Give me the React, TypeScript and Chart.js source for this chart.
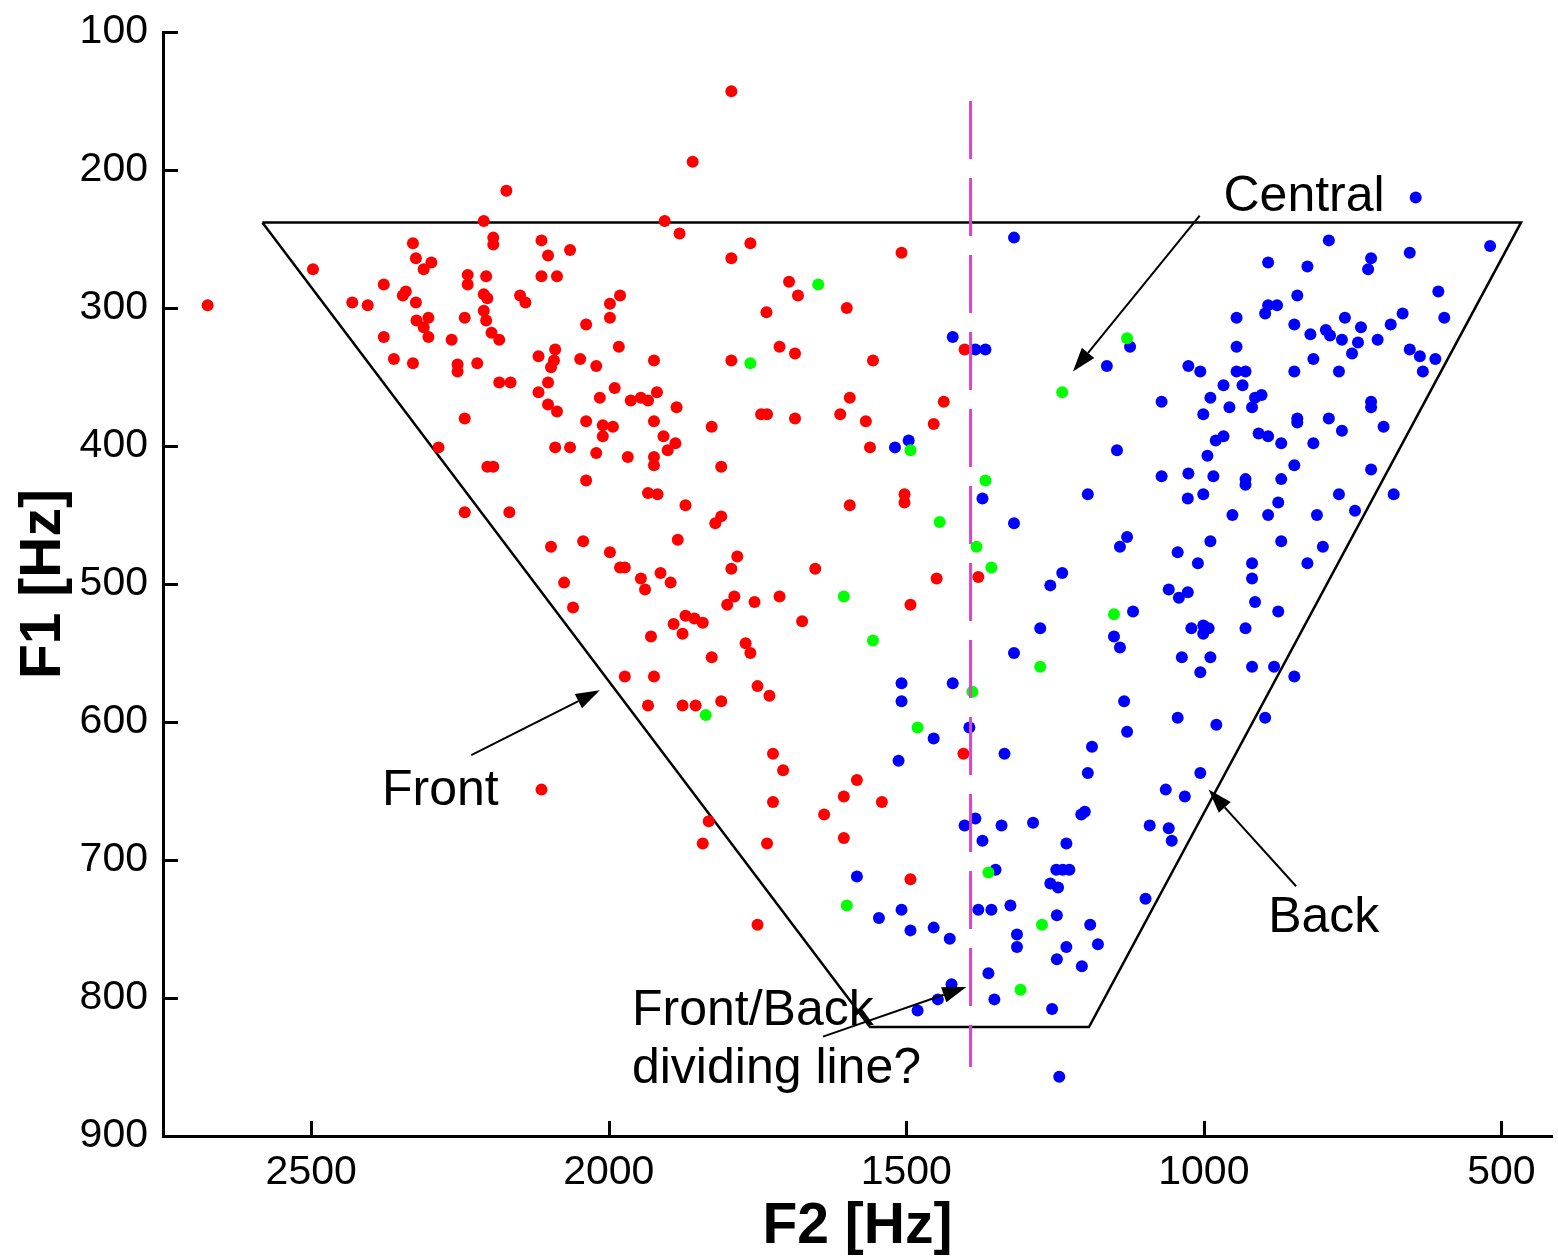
import React, { useEffect, useRef } from 'react';
import { Chart, registerables } from 'chart.js';

Chart.register(...registerables);

const xTicks = [2500, 2000, 1500, 1000, 500];
const yTicks = [100, 200, 300, 400, 500, 600, 700, 800, 900];

const redPoints: [number, number][] = [
  [1794,143],[1859,194],[2172,215],[2210,237],[1906,237],[1881,246],[2194,249],[2194,254],[2329,253],[2113,251],
  [2102,262],[2065,258],[1762,253],[1794,264],[1508,260],[2497,272],[2324,264],[2311,272],[2298,267],[2237,276],
  [2206,277],[2237,283],[2113,277],[2087,277],[2674,298],[2431,296],[2405,298],[2378,283],[2341,288],[2346,291],
  [2324,296],[2210,290],[2204,293],[2149,291],[2140,296],[1981,291],[1998,297],[1998,307],[2038,312],[2242,307],
  [2323,309],[2303,307],[2311,314],[2303,321],[2210,302],[2206,309],[2197,318],[2184,323],[2378,321],[2264,323],
  [2361,337],[2329,340],[2254,341],[2254,346],[2221,340],[2090,330],[2118,335],[2092,338],[2097,343],[2048,337],
  [2021,342],[1983,328],[1924,338],[1697,281],[1682,291],[1735,303],[1600,300],[1794,338],[1713,328],[1687,333],
  [1556,338],[1402,330],[2184,354],[2165,354],[2102,354],[2118,361],[1990,358],[2015,365],[1963,367],[1946,365],
  [1934,367],[1919,361],[2102,370],[2087,375],[1886,372],[2242,380],[2038,382],[2010,385],[1993,386],[2010,393],
  [1924,382],[1908,393],[1888,398],[1901,403],[1827,386],[1744,377],[1734,377],[1687,380],[1611,377],[1568,382],
  [1595,365],[1437,368],[1454,384],[2286,401],[2090,401],[2065,401],[2021,405],[1968,408],[1924,408],[1924,414],
  [2204,415],[2194,415],[2038,425],[1811,415],[1561,401],[1934,434],[1918,435],[2242,448],[2167,448],[2097,473],
  [2043,469],[1998,477],[1981,488],[1973,488],[1946,496],[1939,504],[2075,499],[2060,517],[1929,538],[1973,567],
  [1924,567],[1934,588],[2113,649],[1871,443],[1811,451],[1821,456],[1884,468],[1913,492],[1896,499],[1784,480],
  [1794,489],[1653,489],[1595,443],[1503,435],[1503,441],[1449,496],[1493,515],[1379,495],[1789,509],[1801,515],
  [1755,513],[1713,509],[1675,527],[1871,523],[1856,525],[1842,528],[1891,529],[1876,536],[1770,543],[1762,550],
  [1827,553],[1750,574],[1730,581],[1876,588],[1854,588],[1811,585],[1404,623],[1724,623],[1707,635],[1583,642],
  [1605,654],[1541,658],[1724,658],[1638,667],[1832,672],[1842,688],[1734,688],[1605,684],[1493,714],[1750,747]
];

const greenPoints: [number, number][] = [
  [1648,283],[1762,340],[1493,403],[1367,425],[1444,455],[1382,473],[1357,488],[1605,509],[1556,541],[1837,595],
  [1275,560],[1389,578],[1481,604],[1129,322],[1238,361],[1151,522],[1362,709],[1600,733],[1272,747],[1308,794]
];

const bluePoints: [number, number][] = [
  [644,220],[1319,249],[790,251],[892,267],[826,270],[719,264],[724,272],[654,260],[519,255],[843,291],
  [892,298],[877,298],[897,304],[945,307],[848,312],[821,319],[795,316],[788,320],[763,307],[736,314],
  [768,323],[741,325],[751,333],[708,323],[686,312],[666,304],[606,288],[596,307],[654,330],[637,335],
  [611,337],[632,346],[816,337],[848,346],[773,346],[945,328],[1124,328],[1163,342],[1026,342],[1006,346],
  [945,346],[930,346],[967,356],[935,356],[989,365],[1001,377],[957,372],[919,372],[914,365],[903,363],
  [1071,368],[719,368],[719,372],[843,380],[843,383],[790,380],[768,389],[698,386],[980,396],[967,393],
  [908,391],[892,393],[870,398],[816,398],[1146,403],[994,407],[848,414],[719,417],[1071,422],[1026,420],
  [984,422],[930,424],[930,428],[870,424],[1195,435],[1027,438],[1001,435],[875,441],[773,435],[681,435],
  [952,450],[892,450],[810,450],[746,447],[1129,466],[1141,473],[989,469],[870,469],[800,473],[1044,477],
  [1010,485],[919,485],[826,485],[919,496],[1238,492],[1258,501],[1059,504],[1042,510],[1027,506],[914,513],
  [1119,520],[875,520],[1021,532],[1001,530],[992,532],[1001,536],[930,532],[1151,538],[1141,546],[1037,553],
  [989,553],[1006,564],[919,560],[882,560],[848,567],[1134,585],[1044,597],[979,602],[897,597],[1129,607],
  [1188,618],[1195,637],[1006,637],[1064,649],[1032,654],[1422,321],[1384,330],[1367,330],[1519,401],[1496,396],
  [1372,438],[1319,456],[1275,532],[1319,550],[1508,572],[1422,572],[1508,585],[1454,612],[1394,604],[1335,623],
  [1513,628],[1583,712],[1402,675],[1384,670],[1340,675],[1287,673],[1200,665],[1206,667],[1091,675],[1372,686],
  [1231,688],[1350,707],[1248,707],[1237,707],[1226,707],[1258,717],[1245,720],[1098,728],[1508,736],[1546,742],
  [1493,751],[1454,749],[1427,757],[1379,736],[1357,736],[1325,733],[1247,740],[1191,747],[1314,754],[1314,763],
  [1231,763],[1178,761],[1247,772],[1205,777],[1362,782],[1424,790],[1447,801],[1481,809],[1352,801],[1255,808],
  [1243,857],[1059,677],[1054,686]
];

// vowel region outline (F2, F1)
const regionF2 = [2582, 467, 1193, 1561, 2582];
const regionF1 = [238, 238, 821, 821, 238];

// proposed front/back dividing line
const dividerF2 = [1392, 1392];
const dividerF1 = [150, 850];

// annotation arrows, tail -> head, in (F2, F1)
const arrowFrom: [number, number][] = [[1007, 233], [2231, 624], [845, 719], [1640, 828]];
const arrowTo: [number, number][] = [[1220, 346], [2015, 577], [992, 649], [1399, 792]];

// annotation texts, anchored at left baseline in (F2, F1)
const noteText = ['Central', 'Front', 'Back', 'Front/Back', 'dividing line?'];
const noteF2 = [967, 2381, 892, 1961, 1961];
const noteF1 = [230, 660, 752, 819.5, 861.5];

const FONT = '"Liberation Sans", Arial, sans-serif';

const overlayPlugin = {
  id: 'overlay',
  afterDraw(chart: any) {
    const { ctx, scales } = chart;
    const x = scales.x;
    const y = scales.y;
    ctx.save();
    // inward tick marks
    ctx.strokeStyle = '#000';
    ctx.lineWidth = 3;
    ctx.beginPath();
    xTicks.forEach((v) => {
      const px = Math.round(x.getPixelForValue(v)) + 0.5;
      ctx.moveTo(px, y.bottom);
      ctx.lineTo(px, y.bottom - 15);
    });
    yTicks.forEach((v) => {
      const py = Math.round(y.getPixelForValue(v)) + 0.5;
      ctx.moveTo(x.left, py);
      ctx.lineTo(x.left + 15, py);
    });
    ctx.stroke();

    // arrows
    ctx.lineWidth = 2;
    ctx.fillStyle = '#000';
    arrowFrom.forEach((from, i) => {
      const to = arrowTo[i];
      const x1 = x.getPixelForValue(from[0]);
      const y1 = y.getPixelForValue(from[1]);
      const x2 = x.getPixelForValue(to[0]);
      const y2 = y.getPixelForValue(to[1]);
      const ang = Math.atan2(y2 - y1, x2 - x1);
      const L = 24;
      const W = 8;
      const bx = x2 - L * Math.cos(ang);
      const by = y2 - L * Math.sin(ang);
      ctx.beginPath();
      ctx.moveTo(x1, y1);
      ctx.lineTo(bx, by);
      ctx.stroke();
      ctx.beginPath();
      ctx.moveTo(x2, y2);
      ctx.lineTo(bx + W * Math.sin(ang), by - W * Math.cos(ang));
      ctx.lineTo(bx - W * Math.sin(ang), by + W * Math.cos(ang));
      ctx.closePath();
      ctx.fill();
    });

    // texts
    ctx.font = `50px ${FONT}`;
    ctx.textAlign = 'left';
    ctx.textBaseline = 'alphabetic';
    noteText.forEach((t, i) => {
      ctx.fillText(t, x.getPixelForValue(noteF2[i]), y.getPixelForValue(noteF1[i]));
    });
    ctx.restore();
  },
};

export default function App() {
  const ref = useRef<HTMLCanvasElement>(null);

  useEffect(() => {
    document.body.style.margin = '0';
    const canvas = ref.current;
    if (!canvas) return;
    const toXY = (pts: [number, number][]) => pts.map(([a, b]) => ({ x: a, y: b }));
    const chart = new Chart(canvas, {
      type: 'scatter',
      data: {
        datasets: [
          {
            label: 'divider',
            data: dividerF2.map((v, i) => ({ x: v, y: dividerF1[i] })),
            showLine: true,
            borderColor: '#dd44cc',
            borderWidth: 3,
            borderDash: [58, 19],
            pointRadius: 0,
            fill: false,
            order: 0,
          },
          {
            label: 'green',
            data: toXY(greenPoints),
            backgroundColor: '#00ff00',
            pointBackgroundColor: '#00ff00',
            pointBorderWidth: 0,
            pointRadius: 6,
            order: 1,
          },
          {
            label: 'red',
            data: toXY(redPoints),
            backgroundColor: '#ff0000',
            pointBackgroundColor: '#ff0000',
            pointBorderWidth: 0,
            pointRadius: 6,
            order: 2,
          },
          {
            label: 'blue',
            data: toXY(bluePoints),
            backgroundColor: '#0000ff',
            pointBackgroundColor: '#0000ff',
            pointBorderWidth: 0,
            pointRadius: 6,
            order: 3,
          },
          {
            label: 'region',
            data: regionF2.map((v, i) => ({ x: v, y: regionF1[i] })),
            showLine: true,
            borderColor: '#000000',
            borderWidth: 2.5,
            pointRadius: 0,
            fill: false,
            order: 4,
          },
        ],
      },
      options: {
        responsive: false,
        animation: false,
        devicePixelRatio: 1,
        layout: { padding: { top: 32, left: 0, right: 0, bottom: 0 } },
        plugins: {
          legend: { display: false },
          tooltip: { enabled: false },
        },
        scales: {
          x: {
            type: 'linear',
            position: 'bottom',
            min: 415,
            max: 2749,
            reverse: true,
            afterBuildTicks: (s: any) => {
              s.ticks = xTicks.map((v) => ({ value: v }));
            },
            afterFit: (s: any) => {
              s.height = 120;
              s.paddingLeft = 0;
              s.paddingRight = 0;
              s.paddingTop = 0;
              s.paddingBottom = 0;
            },
            grid: { display: false, drawTicks: false },
            border: { display: true, color: '#000', width: 3 },
            ticks: {
              autoSkip: false,
              maxRotation: 0,
              color: '#000',
              padding: 12,
              font: { family: FONT, size: 41 },
              callback: (v: any) => String(v),
            },
            title: {
              display: true,
              text: 'F2 [Hz]',
              color: '#000',
              padding: { top: 0, bottom: 0 },
              font: { family: FONT, size: 57, weight: 'bold', lineHeight: 1 },
            },
          },
          y: {
            type: 'linear',
            min: 100,
            max: 900,
            reverse: true,
            afterBuildTicks: (s: any) => {
              s.ticks = yTicks.map((v) => ({ value: v }));
            },
            afterFit: (s: any) => {
              s.width = 163;
              s.paddingLeft = 0;
              s.paddingRight = 0;
              s.paddingTop = 0;
              s.paddingBottom = 0;
            },
            grid: { display: false, drawTicks: false },
            border: { display: true, color: '#000', width: 3 },
            ticks: {
              autoSkip: false,
              color: '#000',
              padding: 15,
              font: { family: FONT, size: 41 },
              callback: (v: any) => String(v),
            },
            title: {
              display: true,
              text: 'F1 [Hz]',
              color: '#000',
              padding: { top: 16, bottom: 0 },
              font: { family: FONT, size: 57, weight: 'bold', lineHeight: 1 },
            },
          },
        },
      } as any,
      plugins: [overlayPlugin],
    });
    return () => chart.destroy();
  }, []);

  return (
    <div
      style={{
        position: 'absolute',
        left: 0,
        top: 0,
        width: 1558,
        height: 1256,
        overflow: 'hidden',
        background: '#fff',
      }}
    >
      <canvas ref={ref} width={1558} height={1256} style={{ display: 'block', width: 1558, height: 1256 }} />
    </div>
  );
}
